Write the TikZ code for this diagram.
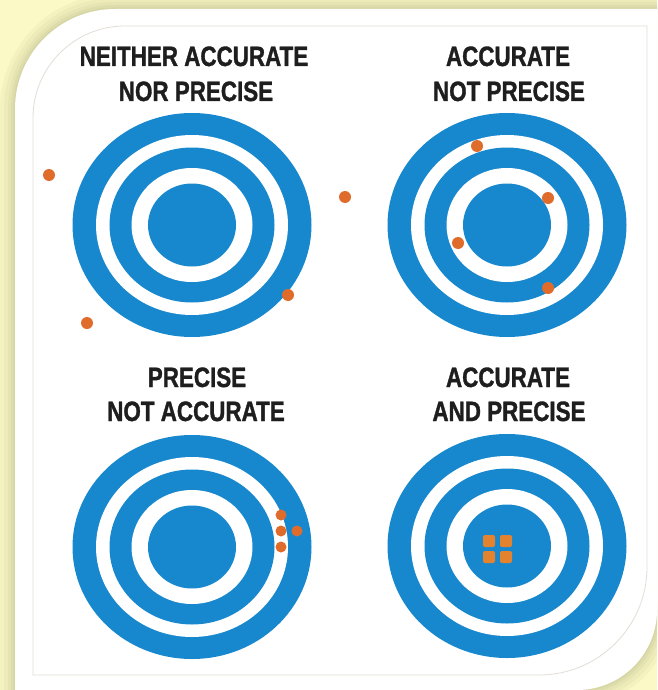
\documentclass[tikz,border=0pt]{standalone}
\usepackage{fontspec}
\newfontfamily\labfont{Liberation Sans}[FakeStretch=0.8, FakeBold=1.2]
\definecolor{paper}{HTML}{FBFAC6}
\definecolor{olive}{HTML}{C9C797}
\definecolor{tblue}{HTML}{1888CE}
\definecolor{dotc}{HTML}{E06C2C}
\definecolor{sqc}{HTML}{E3822F}
\definecolor{ink}{HTML}{1E1E1E}
\definecolor{rim}{HTML}{E2DED6}
\begin{document}
\begin{tikzpicture}[x=1pt,y=1pt,
  tdot/.style={circle, fill=dotc, minimum size=12pt, inner sep=0pt},
  tsq/.style={rectangle, rounded corners=2pt, fill=sqc, minimum size=12pt, inner sep=0pt},
  lab/.style={font=\labfont\bfseries\fontsize{28}{34}\selectfont, text=ink, anchor=base, inner sep=0pt},
  bullseye/.pic={
    \fill[tblue] (0,0) ellipse[x radius=119.5, y radius=112];
    \fill[white] (0,0) ellipse[x radius=96,    y radius=90];
    \fill[tblue] (0,0) ellipse[x radius=82.5,  y radius=77.5];
    \fill[white] (0,0) ellipse[x radius=60.5,  y radius=57];
    \fill[tblue] (0,0) ellipse[x radius=44,    y radius=41.5];
  }]
\useasboundingbox (0,0) rectangle (657,-690);
\clip (0,0) rectangle (657,-690);

% pale yellow ground
\fill[paper] (0,0) rectangle (657,-690);

% soft olive glow around the card
\foreach \w/\o in {30/0.12, 22/0.15, 14/0.2, 8/0.25, 3/0.3}
  \draw[olive, line width=\w pt, opacity=\o, line join=round]
    (15,-700) -- (15,-109) arc[start angle=180, end angle=90, radius=100]
    -- (667,-9) -- (667,-610) -- (657,-610) arc[start angle=0, end angle=-90, radius=80]
    -- (577,-700) -- cycle;

% white card with two rounded corners
\fill[white] (15,-700) -- (15,-109) arc[start angle=180, end angle=90, radius=100]
    -- (667,-9) -- (667,-610) -- (657,-610) arc[start angle=0, end angle=-90, radius=80]
    -- (577,-700) -- cycle;

% thin inner border of the chart
\draw[rim, line width=0.8pt] (33,-675) -- (33,-118) arc[start angle=180, end angle=90, radius=92]
    -- (647,-26) -- (647,-567) arc[start angle=0, end angle=-90, radius=108] -- cycle;

% four targets
\pic (ta) at (192,-225) {bullseye};
\pic (tb) at (507,-225) {bullseye};
\pic (tc) at (192,-547) {bullseye};
\pic (td) at (507,-546) {bullseye};

% captions
\node[lab] (la1) at (194,-66)  {NEITHER ACCURATE};
\node[lab] (la2) at (196,-101) {NOR PRECISE};
\node[lab] (lb1) at (508,-66)  {ACCURATE};
\node[lab] (lb2) at (509,-101) {NOT PRECISE};
\node[lab] (lc1) at (197,-387) {PRECISE};
\node[lab] (lc2) at (196,-421) {NOT ACCURATE};
\node[lab] (ld1) at (508,-387) {ACCURATE};
\node[lab] (ld2) at (509,-421) {AND PRECISE};

% shots: neither accurate nor precise
\node[tdot] (a1) at (49,-175)  {};
\node[tdot] (a2) at (87,-323)  {};
\node[tdot] (a3) at (288,-295) {};
\node[tdot] (a4) at (345,-197) {};

% shots: accurate, not precise
\node[tdot] (b1) at (477,-146) {};
\node[tdot] (b2) at (548,-198) {};
\node[tdot] (b3) at (458,-243) {};
\node[tdot] (b4) at (548,-288) {};

% shots: precise, not accurate
\node[tdot, minimum size=11pt] (c1) at (281,-515) {};
\node[tdot, minimum size=11pt] (c2) at (281,-531) {};
\node[tdot, minimum size=11pt] (c3) at (281,-547) {};
\node[tdot, minimum size=11pt] (c4) at (297,-531) {};

% shots: accurate and precise
\node[tsq] (d1) at (489,-541) {};
\node[tsq] (d2) at (506,-541) {};
\node[tsq] (d3) at (489,-557) {};
\node[tsq] (d4) at (506,-557) {};
\end{tikzpicture}
\end{document}
